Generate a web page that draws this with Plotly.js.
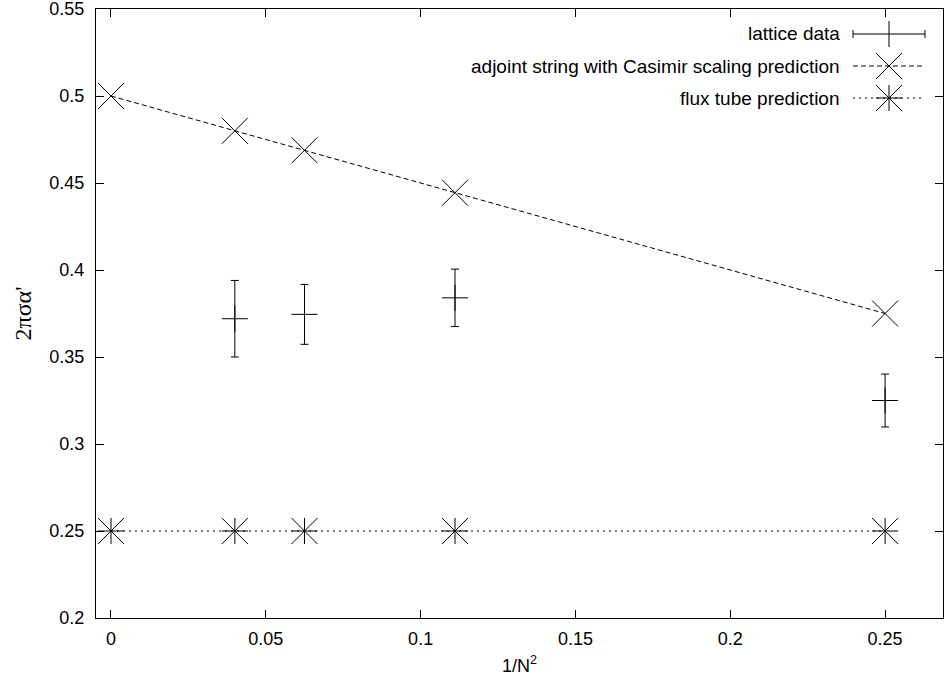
<!DOCTYPE html>
<html>
<head>
<meta charset="utf-8">
<script src="https://cdn.plot.ly/plotly-3.0.1.min.js"></script>
<style>html,body{margin:0;padding:0;background:#fff;}#chart{width:944px;height:683px;}</style>
</head>
<body>
<div id="chart"></div>
<script>
// x values: 1/N^2
const xLattice = [0.04, 0.0625, 0.1111, 0.25];
const yLattice = [0.372, 0.3745, 0.384, 0.325];
const errLattice = [0.022, 0.0172, 0.0165, 0.0152];

const xPred = [0, 0.04, 0.0625, 0.1111, 0.25];
const yAdjoint = [0.5, 0.48, 0.4688, 0.4444, 0.375];
const yFlux = [0.25, 0.25, 0.25, 0.25, 0.25];

const legendLabels = ['lattice data', 'adjoint string with Casimir scaling prediction', 'flux tube prediction'];
const xTicks = [0, 0.05, 0.1, 0.15, 0.2, 0.25];
const xTickText = ['0', '0.05', '0.1', '0.15', '0.2', '0.25'];
const yTicks = [0.2, 0.25, 0.3, 0.35, 0.4, 0.45, 0.5, 0.55];
const yTickText = ['0.2', '0.25', '0.3', '0.35', '0.4', '0.45', '0.5', '0.55'];

const W = 944, H = 683;
const M = {l: 96, r: 1, t: 9, b: 65};
const PW = W - M.l - M.r, PH = H - M.t - M.b;
const fx = px => (px - M.l) / PW;
const fy = py => (H - M.b - py) / PH;

const font = {family: 'Liberation Sans, Arial, sans-serif', size: 18, color: '#000'};
const legendFont = {family: 'Liberation Sans, Arial, sans-serif', size: 19, color: '#000'};

const traces = [
  {
    x: xLattice, y: yLattice, type: 'scatter', mode: 'markers', name: legendLabels[0],
    marker: {symbol: 'cross-thin', size: 18.6, color: '#000', line: {color: '#000', width: 1}},
    error_y: {type: 'data', array: errLattice, visible: true, color: '#000', thickness: 1, width: 4},
    showlegend: false
  },
  {
    x: xPred, y: yAdjoint, type: 'scatter', mode: 'lines+markers', name: legendLabels[1],
    line: {color: '#000', width: 1, dash: '5px,3px'},
    marker: {symbol: 'x-thin', size: 26, color: '#000', line: {color: '#000', width: 1}},
    showlegend: false
  },
  {
    x: xPred, y: yFlux, type: 'scatter', mode: 'lines+markers', name: legendLabels[2],
    line: {color: '#000', width: 1, dash: '2px,4px'},
    marker: {symbol: 'x-thin', size: 26, color: '#000', line: {color: '#000', width: 1}},
    showlegend: false
  },
  {
    x: xPred, y: yFlux, type: 'scatter', mode: 'markers', name: legendLabels[2],
    marker: {symbol: 'cross-thin', size: 18.6, color: '#000', line: {color: '#000', width: 1}},
    showlegend: false, hoverinfo: 'skip'
  }
];

// hand-drawn legend (text on the left, sample on the right, as in the original)
const rowsY = [34, 66, 98];
const sx0 = 853, sx1 = 925, sc = 889, half = 13;
const shapes = [];
const annotations = [];
const L = (x0, y0, x1, y1, dash) => shapes.push({
  type: 'line', xref: 'paper', yref: 'paper',
  x0: fx(x0), y0: fy(y0), x1: fx(x1), y1: fy(y1),
  line: {color: '#000', width: 1, dash: dash || 'solid'}
});
legendLabels.forEach((t, i) => {
  annotations.push({
    xref: 'paper', yref: 'paper', x: fx(842), y: fy(rowsY[i]),
    xanchor: 'right', yanchor: 'middle', text: t, showarrow: false, font: legendFont
  });
});
// lattice data sample
L(sx0, rowsY[0], sx1, rowsY[0]);
L(sx0, rowsY[0] - 4, sx0, rowsY[0] + 4);
L(sx1, rowsY[0] - 4, sx1, rowsY[0] + 4);
L(sc, rowsY[0] - half, sc, rowsY[0] + half);
// adjoint sample
L(sx0, rowsY[1], sx1, rowsY[1], '5px,3px');
L(sc - half, rowsY[1] - half, sc + half, rowsY[1] + half);
L(sc - half, rowsY[1] + half, sc + half, rowsY[1] - half);
// flux sample
L(sx0, rowsY[2], sx1, rowsY[2], '2px,4px');
L(sc - half, rowsY[2] - half, sc + half, rowsY[2] + half);
L(sc - half, rowsY[2] + half, sc + half, rowsY[2] - half);
L(sc, rowsY[2] - half, sc, rowsY[2] + half);
L(sc - half, rowsY[2], sc + half, rowsY[2]);

const axisCommon = {
  showgrid: false, zeroline: false, showline: true, linecolor: '#000', linewidth: 1,
  mirror: 'allticks', ticks: 'inside', ticklen: 8, tickwidth: 1, tickcolor: '#000',
  tickfont: font, tickmode: 'array', ticklabeloverflow: 'allow'
};

const layout = {
  width: W, height: H,
  margin: M,
  paper_bgcolor: '#fff', plot_bgcolor: '#fff',
  font: font,
  showlegend: false,
  xaxis: Object.assign({}, axisCommon, {
    range: [-0.00484, 0.2687], tickvals: xTicks, ticktext: xTickText,
    ticklabelstandoff: 4,
    title: {text: '1/N<sup>2</sup>', font: font, standoff: 11}
  }),
  yaxis: Object.assign({}, axisCommon, {
    range: [0.2, 0.55], tickvals: yTicks, ticktext: yTickText,
    ticklabelstandoff: 7,
    title: {text: "2πσα'", font: {family: 'Liberation Serif, Times New Roman, serif', size: 24, color: '#000'}, standoff: 10}
  }),
  shapes: shapes,
  annotations: annotations
};

Plotly.newPlot('chart', traces, layout, {displayModeBar: false, staticPlot: true});
</script>
</body>
</html>
